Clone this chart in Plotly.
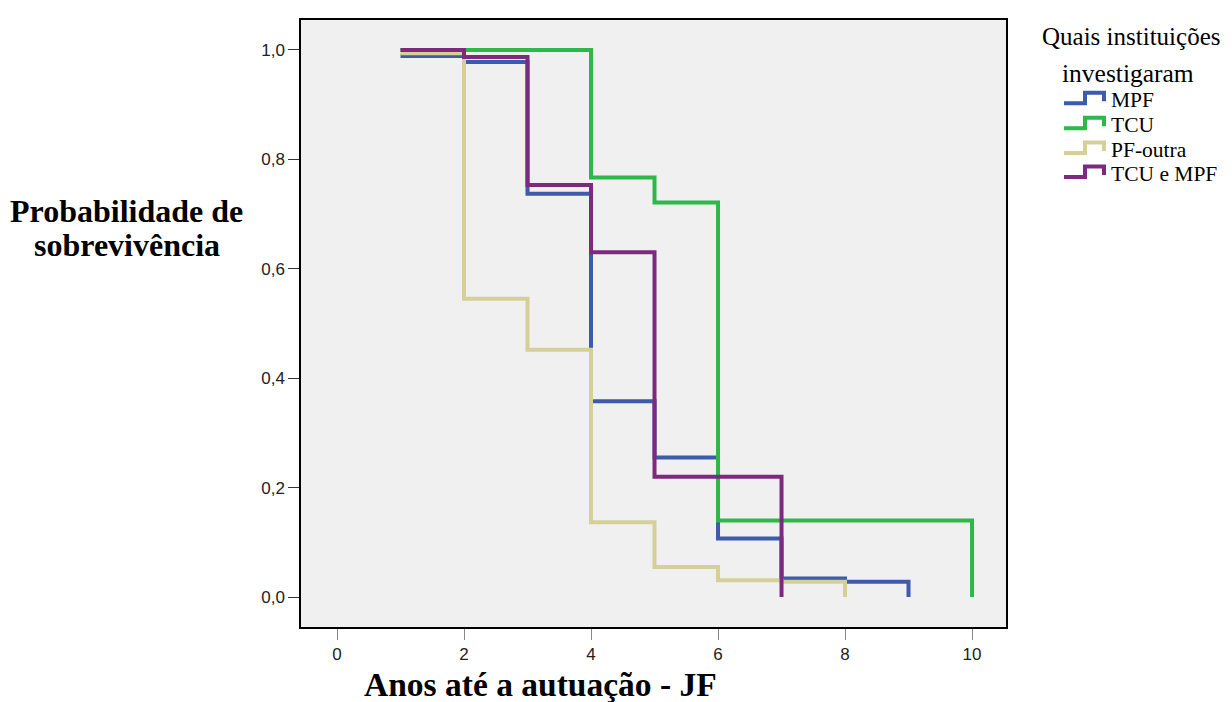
import plotly.graph_objects as go

# Kaplan-Meier step data
groups = ["MPF", "TCU", "PF-outra", "TCU e MPF"]
mpf_t = [1, 2, 3, 4, 5, 6, 7, 8, 9]
mpf_s = [0.989, 0.978, 0.737, 0.358, 0.255, 0.107, 0.034, 0.028, 0.0]
tcu_t = [1, 4, 5, 6, 10]
tcu_s = [1.0, 0.767, 0.721, 0.140, 0.0]
pf_t = [1, 2, 3, 4, 5, 6, 7, 8]
pf_s = [0.994, 0.545, 0.452, 0.137, 0.055, 0.031, 0.028, 0.0]
tm_t = [1, 2, 3, 4, 5, 7]
tm_s = [1.0, 0.987, 0.753, 0.630, 0.220, 0.0]

x_ticks = [0, 2, 4, 6, 8, 10]
y_ticks = [0.0, 0.2, 0.4, 0.6, 0.8, 1.0]

legend_title = ["Quais instituições", "investigaram"]
y_title = ["Probabilidade de", "sobrevivência"]
x_title = "Anos até a autuação - JF"

colors = ["#3d5aab", "#2eb84a", "#d5d097", "#7b2a7e"]
series = [(mpf_t, mpf_s), (tcu_t, tcu_s), (pf_t, pf_s), (tm_t, tm_s)]

SERIF = "Liberation Serif, Times New Roman, serif"

# page-pixel -> paper coordinate helpers (plot area: x 301..1006, y 18..627)
def px(x):
    return (x - 301) / 705

def py(y):
    return (627 - y) / 609

fig = go.Figure()
for name, (t, s), c in zip(groups, series, colors):
    fig.add_trace(go.Scatter(x=t, y=s, mode="lines", name=name, showlegend=False,
                             line=dict(color=c, width=4, shape="hv")))

annotations = [
    dict(text="<b>%s</b>" % y_title[0], xref="paper", yref="paper", x=px(126), y=py(210),
         xanchor="center", yanchor="middle", showarrow=False,
         font=dict(family=SERIF, size=32, color="black")),
    dict(text="<b>%s</b>" % y_title[1], xref="paper", yref="paper", x=px(127), y=py(244),
         xanchor="center", yanchor="middle", showarrow=False,
         font=dict(family=SERIF, size=32, color="black")),
    dict(text="<b>%s</b>" % x_title, xref="paper", yref="paper", x=px(540), y=py(685),
         xanchor="center", yanchor="middle", showarrow=False,
         font=dict(family=SERIF, size=33.5, color="black")),
    dict(text=legend_title[0], xref="paper", yref="paper", x=px(1040), y=py(35),
         xanchor="left", yanchor="middle", showarrow=False,
         font=dict(family=SERIF, size=25, color="black")),
    dict(text=legend_title[1], xref="paper", yref="paper", x=px(1060), y=py(72),
         xanchor="left", yanchor="middle", showarrow=False,
         font=dict(family=SERIF, size=25.5, color="black")),
]
shapes = []
row_low = [101.5, 126.5, 151.5, 175.5]
for name, c, yl in zip(groups, colors, row_low):
    yh = yl - 10.5
    path = "M %f,%f L %f,%f L %f,%f L %f,%f L %f,%f" % (
        px(1064), py(yl), px(1085), py(yl), px(1085), py(yh), px(1104), py(yh), px(1104), py(yl - 2))
    shapes.append(dict(type="path", xref="paper", yref="paper", path=path,
                       line=dict(color=c, width=4)))
    annotations.append(dict(text=name, xref="paper", yref="paper", x=px(1109), y=py(yl - 3),
                            xanchor="left", yanchor="middle", showarrow=False,
                            font=dict(family=SERIF, size=21.5, color="black")))

tickfont = dict(family="Liberation Sans, Arial, sans-serif", size=17, color="#222")
fig.update_layout(
    width=1224, height=694,
    margin=dict(l=293, r=226, t=10, b=75),
    paper_bgcolor="white", plot_bgcolor="#f0f0f0",
    separators=",.",
    showlegend=False,
    xaxis=dict(range=[-0.567, 10.535], tickvals=x_ticks, ticks="outside", ticklen=11,
               tickcolor="#888", tickfont=tickfont, showgrid=False, zeroline=False,
               showline=True, linecolor="black", linewidth=1.5, mirror=True),
    yaxis=dict(range=[-0.0546, 1.0546], tickvals=y_ticks, tickformat=".1f", ticks="outside",
               ticklen=11, tickcolor="#333", tickfont=tickfont, showgrid=False, zeroline=False,
               showline=True, linecolor="black", linewidth=1.5, mirror=True),
    annotations=annotations,
    shapes=shapes,
)

fig.write_html("out.html")
